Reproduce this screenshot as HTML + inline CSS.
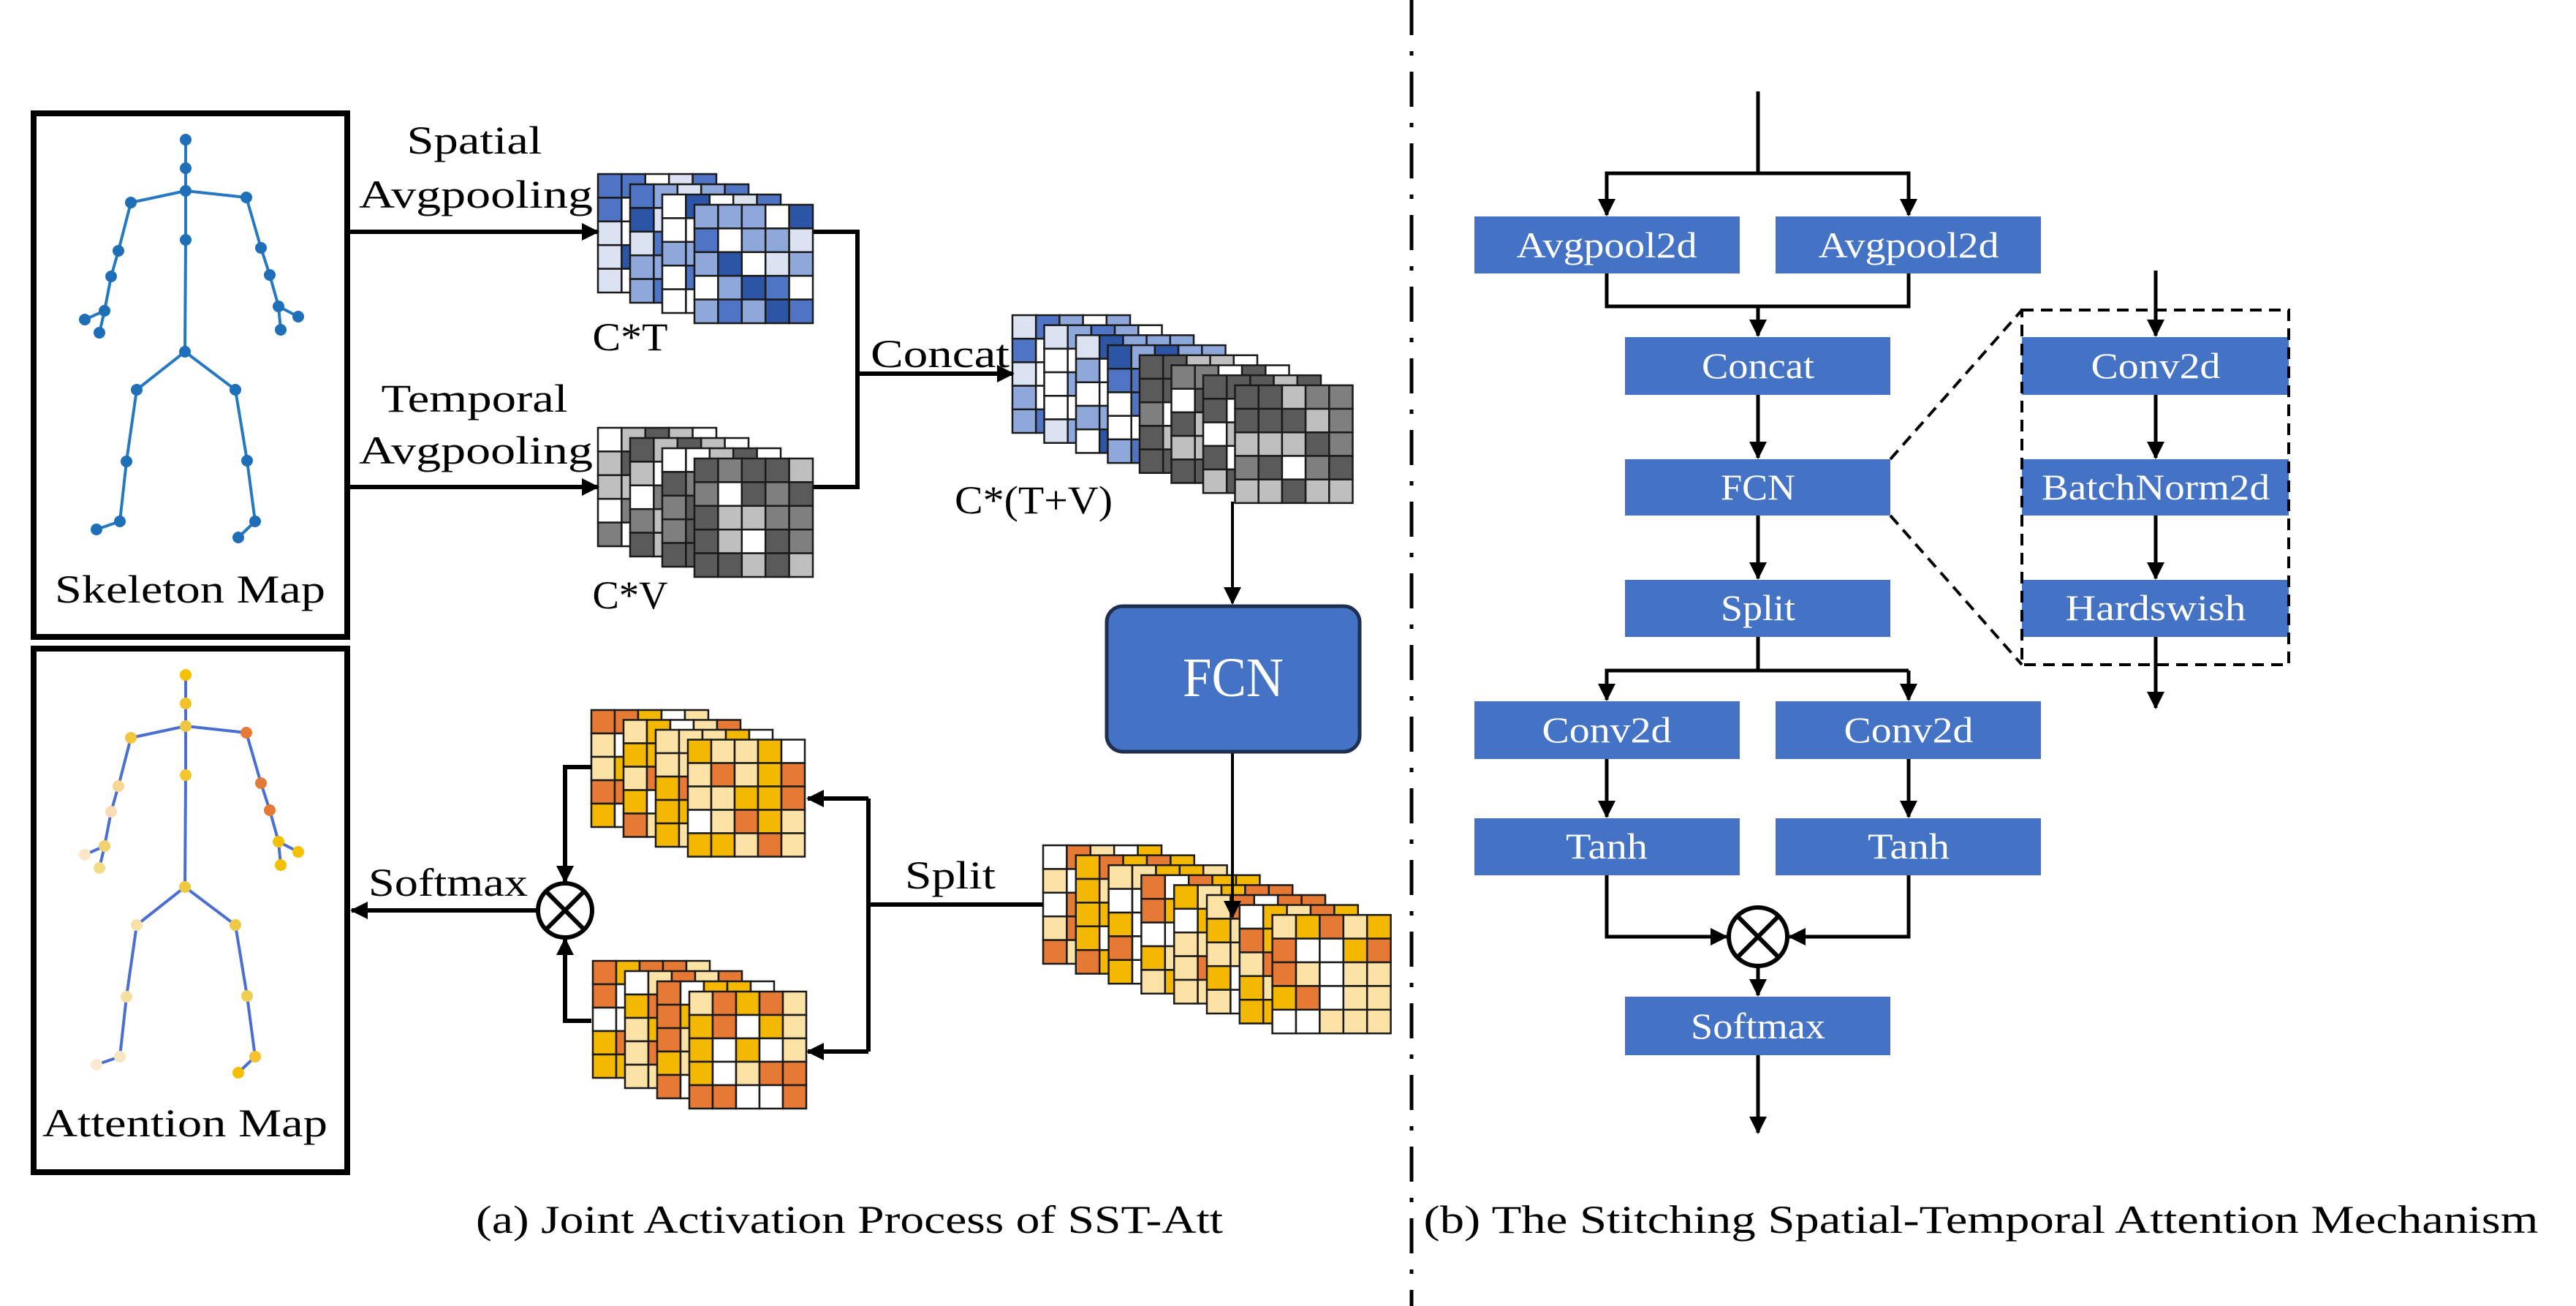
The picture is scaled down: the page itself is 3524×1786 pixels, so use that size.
<!DOCTYPE html>
<html><head><meta charset="utf-8"><style>
html,body{margin:0;padding:0;background:#fff;}
svg{display:block;}
text{font-family:"Liberation Serif",serif;}
</style></head><body>
<svg id="s" xmlns="http://www.w3.org/2000/svg" width="3524" height="1786" viewBox="0 0 3524 1786">
<defs>
<marker id="ah" markerUnits="userSpaceOnUse" markerWidth="30" markerHeight="30" refX="22" refY="12" orient="auto">
<path d="M0,0 L24,12 L0,24 Z" fill="#000"/>
</marker>
</defs>
<rect width="3524" height="1786" fill="#fff"/>
<g id="cubes"></g>

<!-- Left boxes -->
<rect x="46" y="155" width="429" height="716" fill="none" stroke="#000" stroke-width="8"/>
<rect x="46" y="887" width="429" height="716" fill="none" stroke="#000" stroke-width="8"/>
<g id="skel1"></g>
<g id="skel2"></g>
<text x="260" y="824" font-size="54" text-anchor="middle" textLength="370" lengthAdjust="spacingAndGlyphs">Skeleton Map</text>
<text x="253" y="1554" font-size="54" text-anchor="middle" textLength="390" lengthAdjust="spacingAndGlyphs">Attention Map</text>

<!-- Labels left -->
<text x="649" y="210" font-size="54" text-anchor="middle" textLength="185" lengthAdjust="spacingAndGlyphs">Spatial</text>
<text x="651" y="284" font-size="54" text-anchor="middle" textLength="320" lengthAdjust="spacingAndGlyphs">Avgpooling</text>
<text x="649" y="563" font-size="54" text-anchor="middle" textLength="255" lengthAdjust="spacingAndGlyphs">Temporal</text>
<text x="651" y="634" font-size="54" text-anchor="middle" textLength="320" lengthAdjust="spacingAndGlyphs">Avgpooling</text>
<text x="862" y="479" font-size="54" text-anchor="middle" textLength="103" lengthAdjust="spacingAndGlyphs">C*T</text>
<text x="862" y="832" font-size="54" text-anchor="middle" textLength="103" lengthAdjust="spacingAndGlyphs">C*V</text>
<text x="1286" y="502" font-size="54" text-anchor="middle" textLength="190" lengthAdjust="spacingAndGlyphs">Concat</text>
<text x="1414" y="702" font-size="54" text-anchor="middle" textLength="216" lengthAdjust="spacingAndGlyphs">C*(T+V)</text>
<text x="1300" y="1215" font-size="54" text-anchor="middle" textLength="124" lengthAdjust="spacingAndGlyphs">Split</text>
<text x="613" y="1225" font-size="54" text-anchor="middle" textLength="218" lengthAdjust="spacingAndGlyphs">Softmax</text>

<!-- Left connectors -->
<g stroke="#000" stroke-width="6" fill="none">
<line x1="479" y1="317" x2="818" y2="317" marker-end="url(#ah)"/>
<line x1="479" y1="666" x2="818" y2="666" marker-end="url(#ah)"/>
<polyline points="1113,317 1173,317 1173,666 1113,666"/>
<line x1="1173" y1="511" x2="1386" y2="511" marker-end="url(#ah)"/>
<line x1="1686" y1="686" x2="1686" y2="825" stroke-width="4" marker-end="url(#ah)"/>
<line x1="1686" y1="1030" x2="1686" y2="1254" stroke-width="4" marker-end="url(#ah)"/>
<line x1="1427" y1="1237" x2="1188" y2="1237"/>
<polyline points="1188,1092 1188,1438"/>
<line x1="1188" y1="1092" x2="1105" y2="1092" marker-end="url(#ah)"/>
<line x1="1188" y1="1438" x2="1105" y2="1438" marker-end="url(#ah)"/>
<polyline points="809,1049 773,1049 773,1206" marker-end="url(#ah)"/>
<polyline points="809,1396 773,1396 773,1284" marker-end="url(#ah)"/>
<line x1="735" y1="1245" x2="481" y2="1245" marker-end="url(#ah)"/>
</g>
<g stroke="#000" stroke-width="6" fill="#fff">
<circle cx="773" cy="1245" r="37"/>
<line x1="747" y1="1219" x2="799" y2="1271"/>
<line x1="799" y1="1219" x2="747" y2="1271"/>
</g>

<!-- FCN big -->
<rect x="1514" y="829" width="346" height="199" rx="22" fill="#4472c4" stroke="#1f2f4f" stroke-width="5"/>
<text x="1687" y="952" font-size="76" fill="#fff" text-anchor="middle" textLength="138" lengthAdjust="spacingAndGlyphs">FCN</text>

<text x="1162" y="1686" font-size="54" text-anchor="middle" textLength="1022" lengthAdjust="spacingAndGlyphs">(a) Joint Activation Process of SST-Att</text>

<!-- Divider -->
<line x1="1931" y1="0" x2="1931" y2="1786" stroke="#000" stroke-width="5" stroke-dasharray="48 22 6 22"/>

<!-- Right diagram -->
<g fill="#4472c4">
<rect x="2017" y="296" width="363" height="78"/>
<rect x="2429" y="296" width="363" height="78"/>
<rect x="2223" y="461" width="363" height="79"/>
<rect x="2223" y="628" width="363" height="77"/>
<rect x="2223" y="793" width="363" height="78"/>
<rect x="2017" y="959" width="363" height="79"/>
<rect x="2429" y="959" width="363" height="79"/>
<rect x="2017" y="1119" width="363" height="78"/>
<rect x="2429" y="1119" width="363" height="78"/>
<rect x="2223" y="1363" width="363" height="80"/>
<rect x="2766" y="461" width="365" height="79"/>
<rect x="2766" y="628" width="365" height="77"/>
<rect x="2766" y="793" width="365" height="78"/>
</g>
<g fill="#fff" font-size="50" text-anchor="middle">
<text x="2198" y="352" textLength="247" lengthAdjust="spacingAndGlyphs">Avgpool2d</text>
<text x="2611" y="352" textLength="247" lengthAdjust="spacingAndGlyphs">Avgpool2d</text>
<text x="2405" y="517" textLength="154" lengthAdjust="spacingAndGlyphs">Concat</text>
<text x="2405" y="683" textLength="102" lengthAdjust="spacingAndGlyphs">FCN</text>
<text x="2405" y="848" textLength="102" lengthAdjust="spacingAndGlyphs">Split</text>
<text x="2198" y="1015" textLength="177" lengthAdjust="spacingAndGlyphs">Conv2d</text>
<text x="2611" y="1015" textLength="177" lengthAdjust="spacingAndGlyphs">Conv2d</text>
<text x="2198" y="1174" textLength="112" lengthAdjust="spacingAndGlyphs">Tanh</text>
<text x="2611" y="1174" textLength="112" lengthAdjust="spacingAndGlyphs">Tanh</text>
<text x="2405" y="1420" textLength="184" lengthAdjust="spacingAndGlyphs">Softmax</text>
<text x="2949" y="517" textLength="177" lengthAdjust="spacingAndGlyphs">Conv2d</text>
<text x="2949" y="683" textLength="312" lengthAdjust="spacingAndGlyphs">BatchNorm2d</text>
<text x="2949" y="848" textLength="247" lengthAdjust="spacingAndGlyphs">Hardswish</text>
</g>
<g stroke="#000" stroke-width="5" fill="none">
<line x1="2405" y1="125" x2="2405" y2="237"/>
<polyline points="2198,294 2198,237 2611,237 2611,294"/>
<line x1="2198" y1="237" x2="2198" y2="294" marker-end="url(#ah)"/>
<line x1="2611" y1="237" x2="2611" y2="294" marker-end="url(#ah)"/>
<polyline points="2198,374 2198,419 2611,419 2611,374"/>
<line x1="2405" y1="419" x2="2405" y2="459" marker-end="url(#ah)"/>
<line x1="2405" y1="540" x2="2405" y2="626" marker-end="url(#ah)"/>
<line x1="2405" y1="705" x2="2405" y2="791" marker-end="url(#ah)"/>
<polyline points="2405,871 2405,917 2198,917 2198,930"/>
<line x1="2405" y1="917" x2="2611" y2="917"/>
<line x1="2198" y1="917" x2="2198" y2="957" marker-end="url(#ah)"/>
<line x1="2611" y1="917" x2="2611" y2="957" marker-end="url(#ah)"/>
<line x1="2198" y1="1038" x2="2198" y2="1117" marker-end="url(#ah)"/>
<line x1="2611" y1="1038" x2="2611" y2="1117" marker-end="url(#ah)"/>
<polyline points="2198,1197 2198,1281 2362,1281" marker-end="url(#ah)"/>
<polyline points="2611,1197 2611,1281 2448,1281" marker-end="url(#ah)"/>
<line x1="2405" y1="1322" x2="2405" y2="1361" marker-end="url(#ah)"/>
<line x1="2405" y1="1443" x2="2405" y2="1549" marker-end="url(#ah)"/>
<line x1="2949" y1="370" x2="2949" y2="459" marker-end="url(#ah)"/>
<line x1="2949" y1="540" x2="2949" y2="626" marker-end="url(#ah)"/>
<line x1="2949" y1="705" x2="2949" y2="791" marker-end="url(#ah)"/>
<line x1="2949" y1="871" x2="2949" y2="968" marker-end="url(#ah)"/>
<rect x="2766" y="424" width="365" height="485" stroke-dasharray="16 10" stroke-width="4"/>
<line x1="2586" y1="628" x2="2766" y2="424" stroke-dasharray="16 10" stroke-width="4"/>
<line x1="2586" y1="705" x2="2766" y2="909" stroke-dasharray="16 10" stroke-width="4"/>
</g>
<g stroke="#000" stroke-width="6" fill="#fff">
<circle cx="2405" cy="1281" r="40"/>
<line x1="2377" y1="1253" x2="2433" y2="1309"/>
<line x1="2433" y1="1253" x2="2377" y2="1309"/>
</g>
<text x="2710" y="1686" font-size="54" text-anchor="middle" textLength="1525" lengthAdjust="spacingAndGlyphs">(b) The Stitching Spatial-Temporal Attention Mechanism</text>
</svg>
<script>
(function(){
var NS="http://www.w3.org/2000/svg";
function el(p,t,a){var e=document.createElementNS(NS,t);for(var k in a)e.setAttribute(k,a[k]);p.appendChild(e);return e;}
var seed=7;function rnd(){seed=(seed*9301+49297)%233280;return seed/233280;}
var blue=["#ffffff","#dbe3f3","#8fa8dc","#4f74c4","#2d55a6","#ffffff","#8fa8dc"];
var grey=["#ffffff","#bfbfbf","#5a5a5a","#7f7f7f","#5a5a5a","#bfbfbf","#5a5a5a"];
var orng=["#ffffff","#fde2a6","#f5b800","#e67a35","#f5b800","#fde2a6","#e67a35"];
var g=document.getElementById("cubes");
function stack(x0,y0,pals,dx,dy,size){
 var c=size/5;
 for(var l=0;l<pals.length;l++){
  var x=x0+l*dx,y=y0+l*dy,p=pals[l];
  for(var i=0;i<5;i++)for(var j=0;j<5;j++){
   el(g,"rect",{x:x+j*c,y:y+i*c,width:c,height:c,fill:p[Math.floor(rnd()*p.length)],stroke:"#1a1a1a","stroke-width":2.5});
  }
 }
}
stack(818,238,[blue,blue,blue,blue],44,14,162);
stack(818,585,[grey,grey,grey,grey],44,14,162);
stack(1385,431,[blue,blue,blue,blue,grey,grey,grey,grey],43.5,13.7,161);
stack(1427,1156,[orng,orng,orng,orng,orng,orng,orng,orng],44.8,13.6,162);
stack(809,971,[orng,orng,orng,orng],44,13.5,160);
stack(811,1314,[orng,orng,orng,orng],44,14,160);

var P={h:[254,191],n:[254,230],sc:[254,261],ls:[179,277],rs:[337,270],sp:[254,328],
le:[162,343],le2:[152,378],lw:[143,425],lh:[116,437],lt:[136,455],
re:[357,339],re2:[369,376],rw:[381,419],rh:[408,433],rt:[384,451],
hc:[253,481],lhp:[187,533],rhp:[322,533],lk:[173,631],rk:[338,630],la:[164,713],lf:[132,724],ra:[349,713],rf:[326,735]};
var E=[["h","n"],["n","sc"],["sc","sp"],["sp","hc"],["sc","ls"],["ls","le"],["le","le2"],["le2","lw"],["lw","lh"],["lw","lt"],
["sc","rs"],["rs","re"],["re","re2"],["re2","rw"],["rw","rh"],["rw","rt"],["hc","lhp"],["lhp","lk"],["lk","la"],["la","lf"],["hc","rhp"],["rhp","rk"],["rk","ra"],["ra","rf"]];
function skel(id,dy,lc,nc){
 var s=document.getElementById(id);
 E.forEach(function(e){var a=P[e[0]],b=P[e[1]];el(s,"line",{x1:a[0],y1:a[1]+dy,x2:b[0],y2:b[1]+dy,stroke:lc,"stroke-width":4});});
 for(var k in P){el(s,"circle",{cx:P[k][0],cy:P[k][1]+dy,r:8,fill:nc(k)});}
}
skel("skel1",0,"#2678c0",function(){return "#1f6fb8";});
var AC={h:"#f5c000",n:"#f2c22a",sc:"#efc640",ls:"#f3c640",rs:"#e67a35",sp:"#f3c630",le:"#f6d690",le2:"#f8dcb4",lw:"#f0d270",lh:"#fbe6c8",lt:"#f2dc88",
re:"#e07b3a",re2:"#e67a35",rw:"#f2c000",rh:"#f5c000",rt:"#f5c000",hc:"#f0c840",lhp:"#f6e2a8",rhp:"#eec848",lk:"#f6e0a0",rk:"#f0cc50",la:"#f8e6c0",lf:"#fbead0",ra:"#f4c230",rf:"#f2c000"};
skel("skel2",732,"#4a6fd0",function(k){return AC[k];});
})();
</script>
</body></html>
